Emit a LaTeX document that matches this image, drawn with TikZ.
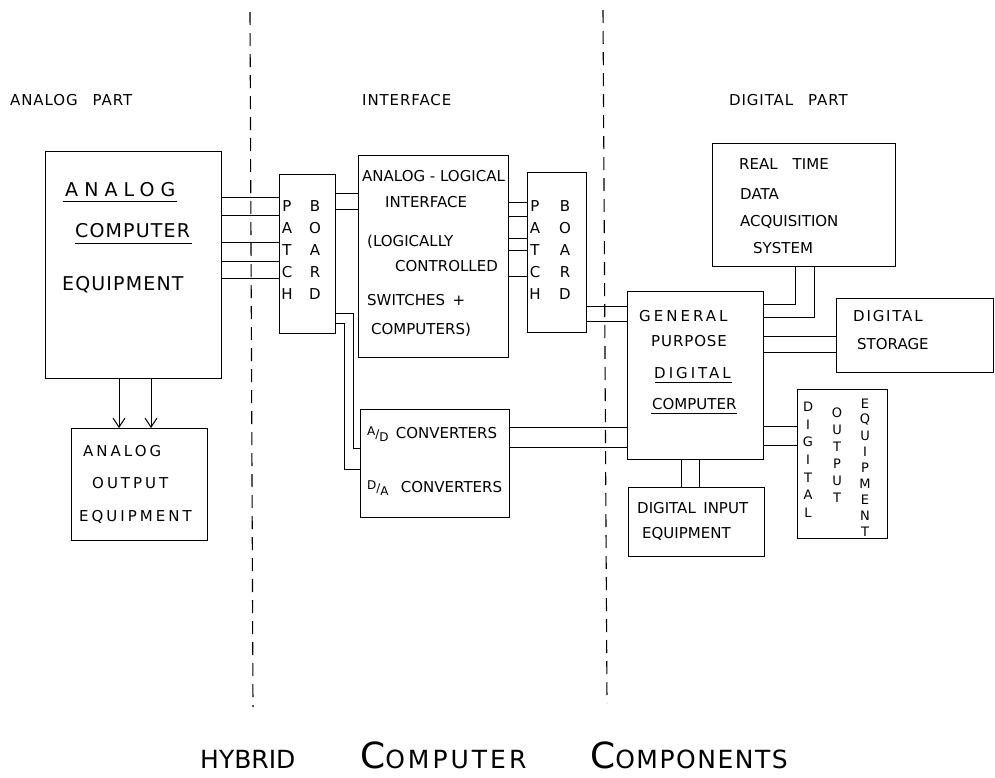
\documentclass[tikz,border=0pt]{standalone}
\usepackage{fontspec}
\setmainfont{DejaVu Sans}
\newfontfamily\handfont[LetterSpace=6]{DejaVu Sans}
\newfontfamily\midfont[LetterSpace=12]{DejaVu Sans}
\newfontfamily\widefont[LetterSpace=20]{DejaVu Sans}
\newfontfamily\airyfont[LetterSpace=32]{DejaVu Sans}
\usetikzlibrary{arrows.meta, positioning, calc}

\newcommand{\fracAD}[2]{{\fontsize{12}{12}\selectfont\raisebox{3pt}{#1}/\raisebox{-3pt}{#2}}}

\begin{document}
\begin{tikzpicture}[
    x=1pt, y=-1pt,
    box/.style={rectangle, draw, line width=1.1pt, anchor=north west, inner sep=0pt},
    wire/.style={draw, line width=1pt},
    arrowline/.style={draw, line width=1pt, -{Straight Barb[length=9pt, width=12pt]}},
    divider/.style={draw, line width=1.1pt, dash pattern=on 13pt off 8pt},
    txt/.style={inner sep=0pt, anchor=base west, font=\fontsize{15}{18}\selectfont},
    handtxt/.style={txt, font=\handfont\fontsize{15}{18}\selectfont},
    midtxt/.style={txt, font=\midfont\fontsize{15}{18}\selectfont},
    widetxt/.style={txt, font=\widefont\fontsize{15}{18}\selectfont},
    bigtxt/.style={inner sep=0pt, anchor=base west, font=\handfont\fontsize{19}{22}\selectfont},
    parttxt/.style={inner sep=0pt, anchor=base west, font=\handfont\fontsize{15}{18}\selectfont},
    letter/.style={inner sep=0pt, anchor=center, font=\fontsize{15}{18}\selectfont},
    smallletter/.style={inner sep=0pt, anchor=center, font=\fontsize{13}{15}\selectfont},
    titletxt/.style={inner sep=0pt, anchor=base west, font=\fontsize{25}{30}\selectfont}
]
\useasboundingbox (0,0) rectangle (995,777);

% section dividers and headings
\draw [divider] (250,12) -- (253,707);
\draw [divider] (603,10) -- (607,703);
\node [parttxt] (lanalog) at (10,105) {ANALOG\quad PART};
\node [parttxt] (linterface) at (362,105) {INTERFACE};
\node [parttxt] (ldigital) at (729,105) {DIGITAL\quad PART};

% analog part
\node [box, minimum width=176pt, minimum height=227pt] (acomp) at (45,151) {};
\node [bigtxt, font=\airyfont\fontsize{19}{22}\selectfont] (acomp1) at (65,196) {ANALOG};
\node [bigtxt] (acomp2) at (75,237) {COMPUTER};
\node [bigtxt] (acomp3) at (62,290) {EQUIPMENT};
\draw [wire] (63,201) -- (177,201);
\draw [wire] (75,243) -- (192,243);

\node [box, minimum width=136pt, minimum height=112pt] (aout) at (71,428) {};
\node [widetxt] (aout1) at (83,456) {ANALOG};
\node [widetxt] (aout2) at (92,488) {OUTPUT};
\node [widetxt] (aout3) at (79,521) {EQUIPMENT};

\draw [arrowline] (acomp.south -| 119,0) -- (aout.north -| 119,0);
\draw [arrowline] (acomp.south -| 151,0) -- (aout.north -| 151,0);

% interface
\node [box, minimum width=56pt, minimum height=159pt] (patcha) at (279,174) {};
\foreach \l [count=\i] in {P,A,T,C,H}
    \node [letter] (pa\i) at (287,184+22*\i) {\l};
\foreach \l [count=\i] in {B,O,A,R,D}
    \node [letter] (ba\i) at (315,184+22*\i) {\l};

\foreach \y in {197,215,242,261,278}
    \draw [wire] (acomp.east |- 0,\y) -- (patcha.west |- 0,\y);

\node [box, minimum width=150pt, minimum height=202pt] (alint) at (358,155) {};
\node [txt] (alint1) at (362,181) {ANALOG - LOGICAL};
\node [txt] (alint2) at (385,207) {INTERFACE};
\node [txt] (alint3) at (367,246) {(LOGICALLY};
\node [txt] (alint4) at (395,271) {CONTROLLED};
\node [txt] (alint5) at (367,305) {SWITCHES\enspace+};
\node [txt] (alint6) at (371,334) {COMPUTERS)};

\foreach \y in {193,209}
    \draw [wire] (patcha.east |- 0,\y) -- (alint.west |- 0,\y);

\node [box, minimum width=59pt, minimum height=160pt] (patchb) at (527,172) {};
\foreach \l [count=\i] in {P,A,T,C,H}
    \node [letter] (pb\i) at (535,184+22*\i) {\l};
\foreach \l [count=\i] in {B,O,A,R,D}
    \node [letter] (bb\i) at (565,184+22*\i) {\l};

\foreach \y in {202,216,238,250,276}
    \draw [wire] (alint.east |- 0,\y) -- (patchb.west |- 0,\y);

\node [box, minimum width=149pt, minimum height=108pt] (adda) at (360,409) {};
\node [txt] (adda1) at (367,438) {\fracAD{A}{D}\, CONVERTERS};
\node [txt] (adda2) at (367,492) {\fracAD{D}{A}\enspace\ CONVERTERS};

\draw [wire] (patcha.east |- 0,313) -| (353,448) -- (adda.west |- 0,448);
\draw [wire] (patcha.east |- 0,323) -| (344,469) -- (adda.west |- 0,469);

% digital part
\node [box, minimum width=136pt, minimum height=168pt] (gpdc) at (627,291) {};
\node [widetxt] (gpdc1) at (639,321) {GENERAL};
\node [handtxt] (gpdc2) at (651,346) {PURPOSE};
\node [widetxt] (gpdc3) at (654,378) {DIGITAL};
\node [txt] (gpdc4) at (652,409) {COMPUTER};
\draw [wire] (655,382) -- (732,382);
\draw [wire] (651,413) -- (737,413);

\foreach \y in {306,321}
    \draw [wire] (patchb.east |- 0,\y) -- (gpdc.west |- 0,\y);
\foreach \y in {427,447}
    \draw [wire] (adda.east |- 0,\y) -- (gpdc.west |- 0,\y);

\node [box, minimum width=183pt, minimum height=123pt] (rtdas) at (712,143) {};
\node [txt] (rtdas1) at (739,169) {REAL\enspace\enspace TIME};
\node [txt] (rtdas2) at (740,199) {DATA};
\node [txt] (rtdas3) at (740,226) {ACQUISITION};
\node [txt] (rtdas4) at (753,253) {SYSTEM};

\draw [wire] (rtdas.south -| 795,0) |- (gpdc.east |- 0,304);
\draw [wire] (rtdas.south -| 814,0) |- (gpdc.east |- 0,317);

\node [box, minimum width=157pt, minimum height=74pt] (dstore) at (836,298) {};
\node [midtxt] (dstore1) at (853,321) {DIGITAL};
\node [txt] (dstore2) at (857,349) {STORAGE};

\foreach \y in {336,352}
    \draw [wire] (gpdc.east |- 0,\y) -- (dstore.west |- 0,\y);

\node [box, minimum width=90pt, minimum height=149pt] (dout) at (797,389) {};
\foreach \l [count=\i] in {D,I,G,I,T,A,L}
    \node [smallletter] (dod\i) at (808,389+17.7*\i) {\l};
\foreach \l [count=\i] in {O,U,T,P,U,T}
    \node [smallletter] (doo\i) at (837,396+17*\i) {\l};
\foreach \l [count=\i] in {E,Q,U,I,P,M,E,N,T}
    \node [smallletter] (doe\i) at (865,388+16*\i) {\l};

\foreach \y in {426,445}
    \draw [wire] (gpdc.east |- 0,\y) -- (dout.west |- 0,\y);

\node [box, minimum width=136pt, minimum height=69pt] (din) at (628,487) {};
\node [txt] (din1) at (637,513) {DIGITAL\enspace INPUT};
\node [txt] (din2) at (642,538) {EQUIPMENT};

\foreach \x in {681,699}
    \draw [wire] (gpdc.south -| \x,0) -- (din.north -| \x,0);

% title
\node [titletxt] (title1) at (200,768) {HYBRID};
\node [titletxt, font=\midfont\fontsize{25}{30}\selectfont] (title2) at (360,768) {{\fontsize{36}{36}\selectfont C}OMPUTER};
\node [titletxt, font=\handfont\fontsize{25}{30}\selectfont] (title3) at (590,768) {{\fontsize{36}{36}\selectfont C}OMPONENTS};

\end{tikzpicture}
\end{document}
